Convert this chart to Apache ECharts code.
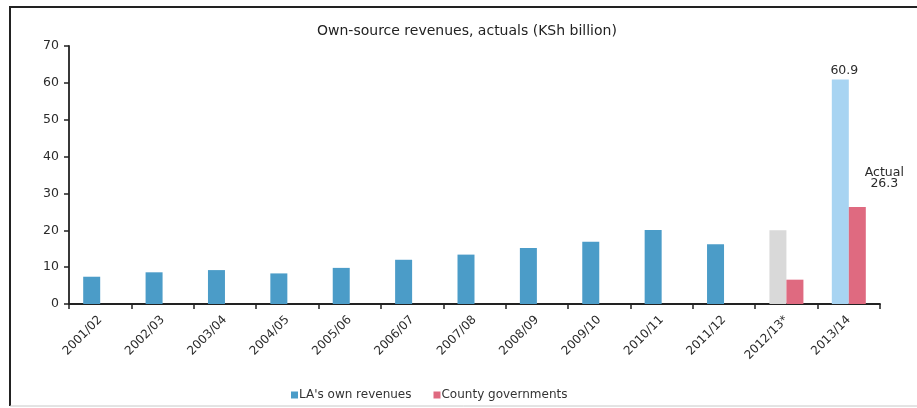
<!DOCTYPE html>
<html>
<head>
<meta charset="utf-8">
<script src="https://cdn.jsdelivr.net/npm/echarts@6/dist/echarts.min.js"></script>
<style>
  html, body { margin: 0; padding: 0; background: #fff; }
  #chart { width: 917px; height: 408px; }
</style>
</head>
<body>
<div id="chart"></div>
<script>
// Fiscal years on the category axis
const years = ['2001/02', '2002/03', '2003/04', '2004/05', '2005/06', '2006/07', '2007/08',
  '2008/09', '2009/10', '2010/11', '2011/12', '2012/13*', '2013/14'];

// Local authorities' own revenues, KSh billion
const laRevenues = [7.4, 8.6, 9.2, 8.3, 9.8, 12.0, 13.4, 15.2, 16.9, 20.1, 16.2, 20.0, 60.9];

// County governments' own revenues, KSh billion (only from 2012/13)
const countyRevenues = [null, null, null, null, null, null, null, null, null, null, null, 6.6, 26.3];

const yTicks = [0, 10, 20, 30, 40, 50, 60, 70];

const FONT = 'DejaVu Sans';
const TEXT = '#2b2b2b';
const BLUE = '#4b9cc8';
const LIGHT_BLUE = '#a8d4f2';
const GREY = '#d9d9d9';
const RED = '#df6a80';

// Estimate-year and projection bars get their own shades
const laData = laRevenues.map((v, i) => {
  if (i === 11) return { value: v, itemStyle: { color: GREY } };
  if (i === 12) return {
    value: v,
    itemStyle: { color: LIGHT_BLUE },
    label: { show: true, position: 'top', distance: 2, offset: [4, 0], formatter: '{c}' }
  };
  return v;
});

const countyData = countyRevenues.map((v, i) => {
  if (i === 12) return {
    value: v,
    label: {
      show: true, position: 'top', distance: 5, offset: [27, -13],
      formatter: 'Actual\n{c}', lineHeight: 11, align: 'center'
    }
  };
  return v;
});

const chart = echarts.init(document.getElementById('chart'), null, { renderer: 'canvas' });

chart.setOption({
  animation: false,
  backgroundColor: '#fff',
  textStyle: { fontFamily: FONT, color: TEXT },
  title: {
    text: 'Own-source revenues, actuals (KSh billion)',
    left: 312,
    top: 19,
    textStyle: { fontFamily: FONT, fontSize: 14, fontWeight: 'normal', color: '#222' }
  },
  graphic: [
    { type: 'line', shape: { x1: 9, y1: 7, x2: 917, y2: 7 }, style: { stroke: '#222', lineWidth: 2 } },
    { type: 'line', shape: { x1: 10, y1: 6, x2: 10, y2: 406 }, style: { stroke: '#222', lineWidth: 2 } },
    { type: 'line', shape: { x1: 10, y1: 406, x2: 917, y2: 406 }, style: { stroke: '#c8c8c8', lineWidth: 1 } }
  ],
  legend: {
    left: 286,
    top: 384,
    itemWidth: 7,
    itemHeight: 7,
    itemGap: 22,
    icon: 'rect',
    textStyle: { fontFamily: FONT, fontSize: 12, color: '#333', padding: [0, 0, 0, -4] },
    data: [
      { name: "LA's own revenues", itemStyle: { color: BLUE } },
      { name: 'County governments', itemStyle: { color: RED } }
    ]
  },
  grid: { left: 69, right: 37, top: 46, bottom: 104, containLabel: false },
  xAxis: {
    type: 'category',
    data: years,
    boundaryGap: true,
    axisLine: { lineStyle: { color: '#222', width: 1.8 } },
    axisTick: { show: true, alignWithLabel: false, length: 5, lineStyle: { color: '#222', width: 1.5 } },
    axisLabel: { rotate: 45, fontFamily: FONT, fontSize: 12, color: TEXT, margin: 14, interval: 0 }
  },
  yAxis: {
    type: 'value',
    min: yTicks[0],
    max: yTicks[yTicks.length - 1],
    interval: yTicks[1] - yTicks[0],
    splitLine: { show: false },
    axisLine: { show: true, lineStyle: { color: '#222', width: 1.8 } },
    axisTick: { show: true, length: 5, lineStyle: { color: '#222', width: 1.5 } },
    axisLabel: { fontFamily: FONT, fontSize: 12.5, color: TEXT, margin: 10 }
  },
  series: [
    {
      name: "LA's own revenues",
      type: 'bar',
      barWidth: 17,
      barGap: '0%',
      itemStyle: { color: BLUE },
      label: { fontFamily: FONT, fontSize: 12.5, color: TEXT },
      data: laData
    },
    {
      name: 'County governments',
      type: 'bar',
      barWidth: 17,
      itemStyle: { color: RED },
      label: { fontFamily: FONT, fontSize: 12.5, color: TEXT },
      data: countyData
    }
  ]
});
</script>
</body>
</html>
